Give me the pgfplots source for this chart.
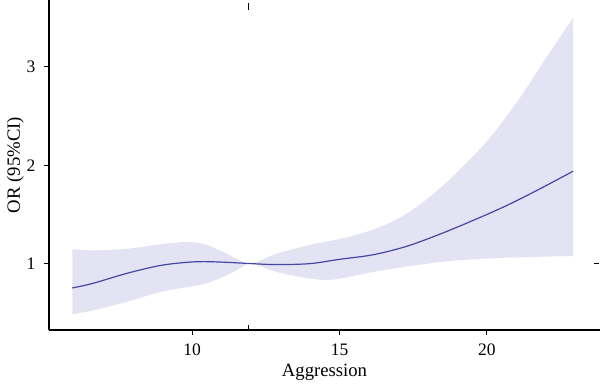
\documentclass[border=0pt]{standalone}
\usepackage{pgfplots}
\pgfplotsset{compat=1.18}
\usepgfplotslibrary{fillbetween}
\usepackage{fontspec}
\setmainfont{Liberation Serif}
\definecolor{bandc}{RGB}{227,227,243}
\definecolor{linec}{RGB}{70,70,165}
\begin{document}
\begin{tikzpicture}
\begin{axis}[
  scale only axis, width=551bp, height=330bp,
  xmin=5.14, xmax=23.84, ymin=0.325, ymax=3.68,
  axis x line*=bottom, axis y line*=left,
  axis line style={line width=1.1bp, black},
  xtick={10,15,20}, ytick={1,2,3},
  tick align=outside, major tick length=5bp,
  tick style={line width=0.9bp, black},
  /pgf/number format/assume math mode=true,
  ticklabel style={font=\fontsize{17.5bp}{20bp}\selectfont},
  label style={font=\fontsize{18.7bp}{21bp}\selectfont},
  xticklabel style={yshift=-5bp},
  yticklabel style={xshift=-5bp},
  xlabel={Aggression}, ylabel={OR (95\%CI)},
  xlabel style={yshift=-2bp},
  ylabel style={yshift=-4bp},
  clip=false,
]
\addplot[name path=U, draw=none, smooth, tension=0.55] coordinates {
(5.93,1.145)(6.64,1.135)(7.77,1.15)(8.90,1.196)(9.81,1.22)(10.37,1.20)(10.94,1.135)(11.50,1.05)(12.00,1.0)(12.86,1.10)(14.00,1.19)(14.67,1.23)(15.35,1.275)(16.03,1.335)(16.71,1.415)(17.39,1.53)(18.07,1.68)(18.75,1.86)(19.43,2.06)(19.99,2.24)(20.50,2.43)(21.20,2.72)(22.03,3.10)(22.93,3.50)};
\addplot[name path=L, draw=none, smooth, tension=0.55] coordinates {
(5.93,0.484)(6.64,0.525)(7.77,0.61)(8.90,0.71)(9.81,0.76)(10.37,0.79)(10.94,0.85)(11.50,0.93)(12.00,1.0)(12.86,0.915)(14.00,0.848)(14.50,0.835)(15.01,0.847)(16.14,0.915)(17.28,0.97)(18.41,1.016)(19.54,1.044)(20.67,1.06)(21.80,1.07)(22.93,1.077)};
\addplot[fill=bandc, draw=none] fill between[of=U and L];
\addplot[linec, line width=1.2bp, smooth, tension=0.55] coordinates {
(5.93,0.752)(6.64,0.80)(7.77,0.90)(8.90,0.98)(9.81,1.013)(10.37,1.02)(10.94,1.016)(11.50,1.008)(12.00,1.0)(12.86,0.99)(14.00,1.0)(15.01,1.044)(16.14,1.09)(17.28,1.176)(18.41,1.30)(19.54,1.44)(20.67,1.59)(21.80,1.76)(22.93,1.94)};
\addplot[only marks, mark=|, mark size=3.5bp, mark options={line width=1bp, black}] coordinates {(11.91,3.61)};
\addplot[only marks, mark=|, mark size=2.5bp, mark options={line width=0.9bp, black}] coordinates {(11.91,0.35)};
\addplot[only marks, mark=-, mark size=2.5bp, mark options={line width=0.9bp, black}] coordinates {(23.72,1.0)};
\end{axis}
\pgfresetboundingbox
\path[use as bounding box] ([xshift=-49bp,yshift=-55bp]current axis.south west) rectangle (current axis.north east);
\end{tikzpicture}
\end{document}
